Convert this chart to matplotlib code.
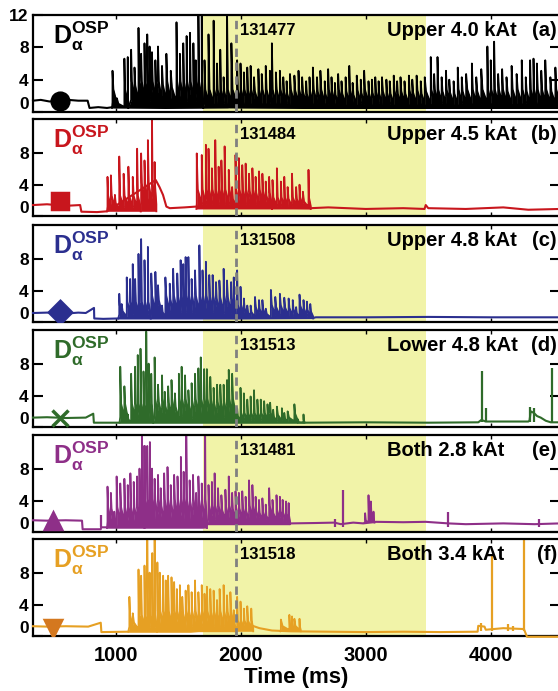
import matplotlib
matplotlib.use('Agg')
import matplotlib.pyplot as plt

plt.rcParams['font.family'] = ['Liberation Sans', 'DejaVu Sans']
plt.rcParams['font.weight'] = 'bold'
plt.rcParams['mathtext.fontset'] = 'custom'
plt.rcParams['mathtext.bf'] = 'Liberation Sans:bold'
plt.rcParams['mathtext.rm'] = 'Liberation Sans:bold'
plt.rcParams['mathtext.it'] = 'Liberation Sans:bold'

# ---- data (time in ms, D_alpha in a.u.) ----
shots = ['131477', '131484', '131508', '131513', '131481', '131518']
configs = ['Upper 4.0 kAt', 'Upper 4.5 kAt', 'Upper 4.8 kAt', 'Lower 4.8 kAt',
           'Both 2.8 kAt', 'Both 3.4 kAt']
letters = ['(a)', '(b)', '(c)', '(d)', '(e)', '(f)']

band_start, band_end = 1700, 3480
t_dashed = 1965

# panel (a)
a_base_t = [338, 400, 470, 540, 620, 700, 775, 790, 860, 930, 975, 1400, 1900, 1930, 1950, 2500, 3000, 3500, 4000, 4554]
a_base_y = [1.4, 1.5, 1.3, 1.4, 1.5, 1.4, 1.4, 0.5, 0.6, 0.5, 0.6, 0.5, 0.6, 2.2, 0.6, 0.5, 0.5, 0.5, 0.5, 0.5]
a_elm_t = [974, 1009, 1069, 1096, 1123, 1150, 1182, 1203, 1230, 1252, 1271, 1290, 1317, 1338, 1370,
           1405, 1440, 1486, 1513, 1540, 1567, 1594, 1621, 1640, 1661, 1688, 1710, 1742, 1783, 1810,
           1836, 1863, 1890, 1925, 1971, 1998, 2025, 2052, 2079, 2106, 2141, 2168, 2200, 2233, 2249,
           2281, 2313, 2340, 2367, 2394, 2429, 2462, 2491, 2523, 2550, 2577, 2610, 2637, 2672, 2699,
           2726, 2753, 2779, 2806, 2839, 2868, 2895, 2928, 2960, 2987, 3022, 3049, 3076, 3103, 3130,
           3165, 3192, 3224, 3251, 3278, 3310, 3345, 3372, 3407, 3440, 3472, 3520, 3547, 3574, 3607,
           3642, 3668, 3703, 3736, 3768, 3803, 3849, 3884, 3924, 3973, 4000, 4027, 4059, 4091, 4126,
           4167, 4207, 4248, 4280, 4315, 4342, 4369, 4404, 4436, 4477, 4517]
a_elm_h = [5.1, 1.7, 6.6, 6.8, 7.7, 5.5, 10.4, 7.2, 8.5, 9.6, 8.1, 7.4, 6.4, 8.1, 5.7,
           7.2, 5.1, 11.1, 7.2, 8.5, 9.4, 9.8, 8.5, 6.4, 13, 13, 6.4, 9.6, 11.3, 6.0,
           7.7, 4.3, 13, 8.5, 6.4, 6.0, 4.9, 5.5, 5.7, 4.3, 5.3, 4.7, 5.7, 5.1, 8.5,
           4.9, 5.1, 4.3, 3.8, 4.7, 4.5, 5.1, 4.3, 3.8, 4.3, 5.5, 4.3, 5.1, 3.8, 5.3,
           4.3, 3.6, 4.7, 3.8, 4.3, 5.7, 3.6, 4.5, 4.0, 5.1, 3.8, 4.0, 4.3, 3.8, 4.3,
           4.0, 3.8, 4.5, 3.8, 4.3, 3.8, 4.5, 4.0, 4.5, 3.8, 4.3, 6.8, 4.7, 6.8, 4.3,
           5.1, 4.0, 3.8, 5.5, 4.3, 4.7, 6.0, 4.3, 5.3, 8.1, 6.4, 8.7, 4.7, 5.3, 4.3,
           5.7, 4.7, 6.4, 4.3, 6.4, 6.6, 6.0, 5.1, 6.4, 4.3, 5.5]
a_fill = [(970, 1100, 0.5, 2.8), (1100, 1700, 0.5, 3.8), (1700, 4554, 0.5, 2.8)]

# panel (b)
b_base_t = [338, 450, 600, 715, 725, 850, 930, 1320, 1350, 1378, 1405, 1432, 1550, 1640, 2560, 2700,
            3000, 3300, 3470, 3480, 3500, 3800, 4100, 4300, 4554]
b_base_y = [1.4, 1.5, 1.3, 1.4, 0.55, 0.5, 0.6, 4.6, 3.7, 2.7, 1.2, 1.0, 1.1, 1.2, 1.0, 1.1,
            0.9, 1.0, 0.9, 1.4, 1.0, 0.9, 1.1, 0.8, 0.9]
b_elm_t = [934, 961, 993, 1028, 1063, 1101, 1136, 1171, 1203, 1230, 1257, 1290, 1311,
           1648, 1688, 1721, 1742, 1769, 1796, 1823, 1845, 1871, 1904, 1931, 1958, 1985, 2012,
           2039, 2066, 2093, 2119, 2146, 2173, 2200, 2227, 2254, 2289, 2321, 2348, 2375, 2410,
           2443, 2470, 2497, 2542]
b_elm_h = [5.0, 5.2, 2.7, 7.6, 5.4, 6.3, 5.0, 8.6, 8.0, 7.1, 9.7, 13, 6.9,
           8.0, 7.8, 9.1, 8.6, 6.1, 9.7, 6.3, 7.1, 8.9, 5.9, 3.7, 7.8, 7.4, 6.5,
           6.7, 5.4, 6.1, 5.0, 5.7, 5.4, 4.4, 5.0, 4.6, 6.1, 4.4, 5.0, 3.7, 5.4,
           3.7, 4.0, 3.1, 5.9]
b_fill = [(930, 1200, 0.6, 2.6), (1200, 1325, 0.6, 4.2), (1645, 2250, 0.9, 3.4), (2250, 2560, 0.9, 2.4)]

# panel (c)
c_base_t = [338, 450, 620, 700, 760, 826, 828, 900, 1015, 1500, 2000, 2577, 2600, 3000, 3500, 4000, 4554]
c_base_y = [1.15, 1.2, 1.1, 1.2, 1.15, 1.8, 0.45, 0.4, 0.45, 0.45, 0.45, 0.5, 0.6, 0.6, 0.65, 0.6, 0.6]
c_elm_t = [1028, 1047, 1088, 1115, 1136, 1155, 1182, 1203, 1230, 1257, 1284, 1317, 1338, 1370, 1397,
           1432, 1459, 1492, 1519, 1540, 1559, 1581, 1607, 1634, 1669, 1694, 1721, 1748, 1775, 1802,
           1829, 1863, 1890, 1923, 1944, 1971, 1998, 2025, 2052, 2079, 2114, 2146, 2173, 2200, 2241,
           2276, 2313, 2348, 2383, 2416, 2443, 2470, 2502, 2529, 2556]
c_elm_h = [3.6, 2.3, 5.7, 5.5, 7.4, 5.5, 8.7, 10.6, 7.9, 9.6, 6.2, 6.4, 4.7, 2.1, 5.7,
           4.9, 6.8, 6.2, 7.9, 7.4, 8.3, 8.3, 5.5, 6.6, 9.8, 6.6, 7.7, 6.0, 6.0, 5.1,
           5.3, 6.8, 5.3, 5.1, 5.7, 6.6, 4.5, 3.0, 2.1, 2.1, 3.2, 2.8, 2.8, 1.7, 4.1,
           3.2, 3.6, 3.1, 3.0, 2.8, 1.9, 3.5, 2.8, 2.6, 2.3]
c_fill = [(1020, 1280, 0.45, 2.6), (1280, 1960, 0.45, 3.4), (1960, 2580, 0.45, 2.2)]

# panel (d)
d_base_t = [338, 450, 600, 760, 820, 825, 1015, 1500, 2000, 2510, 3000, 3500, 3900, 3925, 3960,
            4300, 4310, 4320, 4345, 4370, 4400, 4440, 4480, 4554]
d_base_y = [1.2, 1.25, 1.15, 1.2, 1.7, 0.55, 0.55, 0.55, 0.55, 0.55, 0.6, 0.55, 0.6, 0.9, 0.7,
            0.7, 0.8, 2.0, 1.8, 1.4, 1.2, 0.8, 0.6, 0.6]
d_elm_t = [1036, 1069, 1096, 1123, 1155, 1176, 1198, 1222, 1244, 1263, 1284, 1311, 1338, 1370, 1392,
           1419, 1446, 1473, 1505, 1527, 1554, 1581, 1607, 1634, 1661, 1680, 1707, 1729, 1756, 1783,
           1810, 1836, 1863, 1890, 1904, 1931, 1971, 1998, 2025, 2052, 2079, 2106, 2133, 2160, 2187,
           2214, 2235, 2259, 2289, 2329, 2348, 2375, 2429, 2456, 2502, 3930, 3965, 4315, 4342, 4490]
d_elm_h = [7.7, 5.2, 1.6, 6.8, 7.7, 9.2, 10.0, 7.1, 12.2, 8.1, 6.8, 8.9, 5.4, 6.6, 4.5,
           5.2, 6.0, 4.3, 6.8, 7.7, 6.6, 4.7, 5.6, 6.8, 7.5, 8.9, 7.4, 7.4, 6.4, 5.0,
           5.4, 5.4, 5.4, 6.0, 7.3, 6.8, 2.4, 5.0, 4.3, 3.5, 3.9, 4.7, 3.5, 3.5, 3.3,
           2.9, 3.1, 2.2, 2.6, 2.4, 1.8, 2.0, 2.9, 1.0, 1.6, 7.1, 2.4, 2.6, 2.4, 7.5]
d_fill = [(1030, 1300, 0.55, 3.0), (1300, 1965, 0.55, 3.6), (1965, 2510, 0.55, 1.8)]

# panel (e)
e_base_t = [338, 450, 600, 730, 735, 880, 883, 1700, 1725, 2390, 2400, 2600, 2750, 2800, 2900, 2980,
            3080, 3300, 3480, 3660, 3800, 4100, 4350, 4554]
e_base_y = [1.5, 1.45, 1.5, 1.45, 0.35, 0.35, 0.6, 0.6, 1.0, 1.0, 1.1, 1.15, 1.2, 1.0, 1.2, 1.1,
            1.3, 1.25, 1.3, 1.1, 1.0, 1.1, 1.0, 1.1]
e_elm_t = [885, 934, 961, 988, 1007, 1036, 1069, 1096, 1117, 1144, 1171, 1190, 1209, 1230, 1252,
           1273, 1290, 1311, 1338, 1360, 1387, 1414, 1440, 1467, 1494, 1521, 1543, 1564, 1591, 1618,
           1643, 1661, 1688, 1715, 1742, 1769, 1791, 1818, 1845, 1877, 1904, 1931, 1958, 1985, 2012,
           2039, 2066, 2093, 2119, 2146, 2173, 2200, 2227, 2254, 2286, 2313, 2335, 2362, 2383, 2753,
           2820, 2995, 3022, 3041, 3062, 3655, 4382]
e_elm_h = [2.2, 5.8, 5.0, 2.6, 7.1, 6.2, 6.8, 6.0, 7.5, 6.4, 7.1, 8.1, 13, 11.0, 11.0,
           11.5, 8.1, 6.8, 7.3, 5.6, 7.5, 8.3, 6.0, 7.3, 7.1, 9.6, 7.7, 13, 6.6, 7.3,
           5.0, 7.1, 6.2, 13, 6.0, 6.4, 7.5, 5.6, 4.7, 5.4, 7.1, 5.0, 5.2, 5.0, 5.2,
           4.5, 6.6, 6.0, 4.5, 4.1, 4.3, 3.5, 5.6, 4.1, 4.7, 4.5, 4.1, 3.9, 3.7, 1.6,
           5.4, 2.4, 4.7, 3.9, 2.6, 2.6, 1.7]
e_fill = [(930, 1230, 0.5, 3.2), (1230, 1730, 0.5, 4.2), (1730, 2395, 1.0, 3.4), (2990, 3070, 1.2, 2.4)]

# panel (f)
f_base_t = [338, 450, 600, 780, 860, 880, 885, 1100, 1600, 2095, 2150, 2250, 2400, 2700, 3000, 3300,
            3600, 3895, 3900, 3950, 3960, 4100, 4250, 4265, 4290, 4554]
f_base_y = [1.25, 1.2, 1.25, 1.2, 1.6, 1.7, 0.5, 0.55, 0.55, 1.3, 1.0, 0.7, 0.6, 0.55, 0.5, 0.55,
            0.5, 0.55, 1.3, 1.2, 0.8, 1.0, 0.9, 0.9, -0.1, -0.1]
f_elm_t = [1109, 1136, 1182, 1203, 1230, 1252, 1271, 1292, 1311, 1333, 1352, 1379, 1400, 1419, 1446,
           1467, 1489, 1513, 1532, 1559, 1581, 1607, 1634, 1661, 1688, 1710, 1729, 1756, 1783, 1810,
           1831, 1863, 1890, 1917, 1944, 1971, 1998, 2025, 2052, 2084, 2321, 2389, 2410, 2429, 2470,
           3924, 4010, 4140, 4180, 4262]
f_elm_h = [5.0, 2.9, 8.5, 7.7, 9.0, 13, 8.1, 10.6, 13, 9.4, 8.1, 7.7, 7.1, 7.7, 7.5,
           6.9, 6.0, 6.5, 5.0, 5.8, 6.5, 5.6, 7.1, 5.6, 6.5, 5.4, 6.3, 6.0, 5.8, 4.6,
           6.0, 6.5, 5.2, 5.6, 3.3, 5.0, 4.4, 3.5, 3.8, 3.5, 2.1, 2.7, 2.5, 2.2, 2.2,
           1.7, 10.2, 1.5, 1.3, 13]
f_fill = [(1100, 1330, 0.55, 2.7), (1330, 1960, 0.55, 3.2), (1960, 2100, 0.6, 2.0), (2315, 2480, 0.6, 1.3)]

marker_t = [557, 557, 557, 557, 500, 495]
marker_y = [1.4, 1.9, 1.3, 1.2, 1.4, 1.0]

# ---- styles ----
colors = ['black', '#c8161d', '#2b2f8f', '#2f6b2a', '#8e2f88', '#e6a023']
marker_colors = ['black', '#c8161d', '#2b2f8f', '#2f6b2a', '#8e2f88', '#d4781f']
markers = ['o', 's', 'D', 'x', '^', 'v']
marker_sizes = [12, 11, 11, 12, 12, 12]

panels = [
    (a_base_t, a_base_y, a_elm_t, a_elm_h, a_fill),
    (b_base_t, b_base_y, b_elm_t, b_elm_h, b_fill),
    (c_base_t, c_base_y, c_elm_t, c_elm_h, c_fill),
    (d_base_t, d_base_y, d_elm_t, d_elm_h, d_fill),
    (e_base_t, e_base_y, e_elm_t, e_elm_h, e_fill),
    (f_base_t, f_base_y, f_elm_t, f_elm_h, f_fill),
]


def elm_trains(et, eh, fills):
    """Sawtooth trace for each ELM-ing interval: jump to the peak, fall to the
    inter-ELM level, relax down towards the floor until the next ELM."""
    trains, lone = [], []
    for t0, t1, lo, hi in fills:
        idx = [k for k, t in enumerate(et) if t0 <= t <= t1]
        xs, ys = [t0], [lo]
        for j, k in enumerate(idx):
            t, h = et[k], eh[k]
            nxt = et[idx[j + 1]] if j + 1 < len(idx) else t1
            gap = nxt - t
            top = min(hi, 0.6 * h)
            xs += [t, t, t + 0.2 * gap, nxt]
            ys += [lo + 0.3 * (top - lo), h, top, lo + 0.25 * (top - lo)]
        xs.append(t1)
        ys.append(lo)
        trains.append((xs, ys, lo))
    for t, h in zip(et, eh):
        if not any(t0 <= t <= t1 for t0, t1, _, _ in fills):
            lone.append((t, h))
    return trains, lone


W, H = 558, 691
tops = [15, 119, 225, 330, 435, 539]
ph = 97

fig = plt.figure(figsize=(W / 100, H / 100), dpi=100)

for i, (bt, by, et, eh, fills) in enumerate(panels):
    c = colors[i]
    ax = fig.add_axes([33 / W, 1 - (tops[i] + ph) / H, 527 / W, ph / H])
    ax.set_xlim(338, 4554)
    ax.set_ylim(0, 12 if i == 0 else 12.4)

    ax.axvspan(band_start, band_end, color='#f1f3a8', lw=0, zorder=0)

    trains, lone = elm_trains(et, eh, fills)
    for xs, ys, lo in trains:
        ax.fill_between(xs, lo, ys, color=c, lw=0, zorder=1)
        ax.plot(xs, ys, color=c, lw=1.3, zorder=2)
    if lone:
        ax.vlines([t for t, _ in lone], 0.6, [h for _, h in lone], color=c, lw=1.6, zorder=2)
    ax.plot(bt, by, color=c, lw=1.5, zorder=3, clip_on=False)
    ax.plot(marker_t[i], marker_y[i], marker=markers[i], ms=marker_sizes[i],
            color=marker_colors[i], mew=2.5, zorder=4)

    ax.axvline(t_dashed, color='#808080', lw=2, ls=(0, (3, 2)), zorder=5)

    # labels
    ax.annotate(r'$\mathbf{D}_{\mathbf{\alpha}}^{\mathbf{OSP}}$', xy=(0, 1),
                xycoords='axes fraction', xytext=(20, -29), textcoords='offset pixels',
                fontsize=18, color=c, ha='left', va='baseline')
    ax.annotate(shots[i], xy=(0, 1), xycoords='axes fraction', xytext=(207, -20),
                textcoords='offset pixels', fontsize=12, ha='left', va='baseline')
    ax.annotate(configs[i], xy=(0, 1), xycoords='axes fraction', xytext=(354, -21),
                textcoords='offset pixels', fontsize=14.5, ha='left', va='baseline')
    ax.annotate(letters[i], xy=(0, 1), xycoords='axes fraction', xytext=(524, -21),
                textcoords='offset pixels', fontsize=14.5, ha='right', va='baseline')

    # axes styling
    for s in ax.spines.values():
        s.set_linewidth(1.6)
    ax.set_yticks([0, 4, 8, 12] if i == 0 else [0, 4, 8])
    ax.tick_params(axis='y', direction='in', length=7, width=1.5, left=True, right=True,
                   labelsize=12.5, pad=3)
    ax.set_xticks([1000, 2000, 3000, 4000])
    ax.tick_params(axis='x', direction='in', length=3, width=1, top=True, bottom=True,
                   labelbottom=(i == 5), labelsize=14.5, pad=7)
    ax.yaxis.get_major_ticks()[0].label1.set_va('bottom')
    for lab in ax.get_yticklabels() + ax.get_xticklabels():
        lab.set_fontweight('bold')

    if i == 5:
        ax.set_xlabel('Time (ms)', fontsize=16, fontweight='bold', labelpad=2)

fig.savefig('out.png', dpi=100)
